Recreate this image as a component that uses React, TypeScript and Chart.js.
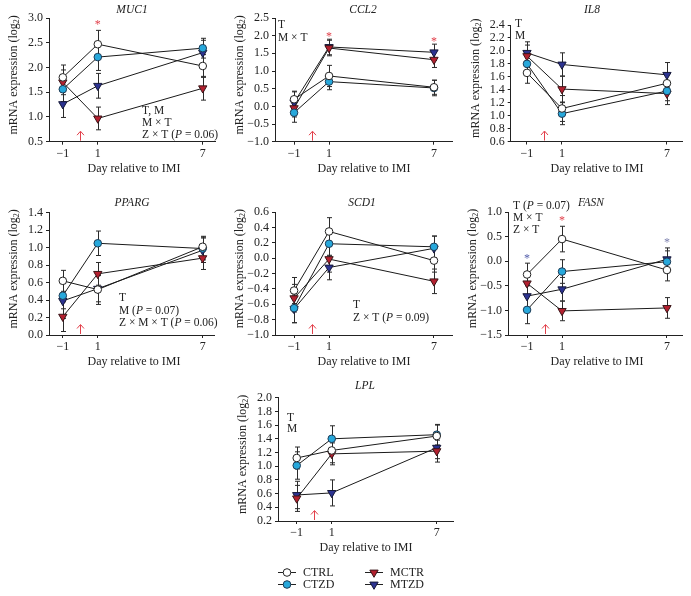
import { useEffect, useRef } from "react";
import { Chart, registerables } from "chart.js";
Chart.register(...registerables);

const FONT = '"Liberation Serif", "Times New Roman", serif';

// ---------- shared categories ----------
const days = [-1, 1, 7];
const xTickLabels = ["\u22121", "1", "7"];
const groupNames = ["CTRL", "CTZD", "MCTR", "MTZD"];
const imiDay = 0;

// ---------- data (rows: CTRL, CTZD, MCTR, MTZD; columns: day -1, 1, 7) ----------
const muc1Means = [[1.80, 2.47, 2.03], [1.56, 2.21, 2.39], [1.70, 0.97, 1.58], [1.26, 1.63, 2.30]];
const muc1Errors = [[0.25, 0.28, 0.23], [0.25, 0.27, 0.20], [0.25, 0.23, 0.24], [0.27, 0.25, 0.25]];
const muc1YTicks = [0.5, 1.0, 1.5, 2.0, 2.5, 3.0];
const muc1Stars = [[1, 2.92]];

const ccl2Means = [[0.20, 0.86, 0.54], [-0.18, 0.70, 0.52], [-0.05, 1.65, 1.32], [0.11, 1.68, 1.53]];
const ccl2Errors = [[0.23, 0.30, 0.20], [0.27, 0.23, 0.22], [0.25, 0.22, 0.22], [0.30, 0.22, 0.23]];
const ccl2YTicks = [-1.0, -0.5, 0.0, 0.5, 1.0, 1.5, 2.0, 2.5];
const ccl2Stars = [[1, 2.05], [7, 1.91]];

const il8Means = [[1.66, 1.11, 1.50], [1.80, 1.03, 1.38], [1.92, 1.41, 1.34], [1.97, 1.79, 1.63]];
const il8Errors = [[0.16, 0.20, 0.15], [0.15, 0.17, 0.15], [0.17, 0.20, 0.17], [0.17, 0.18, 0.19]];
const il8YTicks = [0.6, 0.8, 1.0, 1.2, 1.4, 1.6, 1.8, 2.0, 2.2, 2.4];

const ppargMeans = [[0.62, 0.52, 1.01], [0.45, 1.05, 0.99], [0.21, 0.70, 0.88], [0.39, 0.53, 0.97]];
const ppargErrors = [[0.12, 0.17, 0.12], [0.15, 0.14, 0.13], [0.17, 0.13, 0.13], [0.20, 0.15, 0.14]];
const ppargYTicks = [0.0, 0.2, 0.4, 0.6, 0.8, 1.0, 1.2, 1.4];

const scd1Means = [[-0.42, 0.35, -0.03], [-0.65, 0.19, 0.15], [-0.52, -0.01, -0.30], [-0.66, -0.12, 0.13]];
const scd1Errors = [[0.17, 0.18, 0.15], [0.19, 0.16, 0.14], [0.18, 0.17, 0.16], [0.18, 0.16, 0.16]];
const scd1YTicks = [-1.0, -0.8, -0.6, -0.4, -0.2, 0.0, 0.2, 0.4, 0.6];

const fasnMeans = [[-0.27, 0.45, -0.18], [-0.99, -0.21, -0.01], [-0.45, -1.01, -0.95], [-0.71, -0.57, 0.04]];
const fasnErrors = [[0.23, 0.26, 0.22], [0.28, 0.24, 0.22], [0.24, 0.20, 0.21], [0.25, 0.24, 0.23]];
const fasnYTicks = [-1.5, -1.0, -0.5, 0.0, 0.5, 1.0];
const fasnStars = [[-1, 0.10], [1, 0.88], [7, 0.44]];

const lplMeans = [[1.12, 1.23, 1.44], [1.01, 1.40, 1.46], [0.53, 1.18, 1.22], [0.58, 0.61, 1.27]];
const lplErrors = [[0.16, 0.18, 0.16], [0.20, 0.19, 0.15], [0.19, 0.16, 0.16], [0.20, 0.19, 0.16]];
const lplYTicks = [0.2, 0.4, 0.6, 0.8, 1.0, 1.2, 1.4, 1.6, 1.8, 2.0];

// ---------- styles ----------
const RED = "#E2404B";
const BLUE_STAR = "#5560AC";
const SLATE_STAR = "#7C80AE";
const groupStyles = [
  { shape: "circle", rot: 0, r: 3.8, fill: "#ffffff", border: "#222222" },
  { shape: "circle", rot: 0, r: 3.8, fill: "#27A8DB", border: "#1d3a55" },
  { shape: "triangle", rot: 180, r: 4.8, fill: "#B3202F", border: "#3a1518" },
  { shape: "triangle", rot: 180, r: 4.8, fill: "#2C3391", border: "#151838" },
];

type Note = { x: number; y: number; t: string };
type PanelCfg = {
  title: string;
  means: number[][];
  errs: number[][];
  yTicks: number[];
  stars: number[][];
  starColors: string[];
  xMin: number;
  xMax: number;
  canvas: number[];
  area: number[];
  titlePos: number[];
  xTitlePos: number[];
  notes: Note[];
  legend?: boolean;
};

const panels: PanelCfg[] = [
  {
    title: "MUC1", means: muc1Means, errs: muc1Errors, yTicks: muc1YTicks, stars: muc1Stars, starColors: [RED],
    xMin: -1.79, xMax: 7.7, canvas: [0, 0, 226, 180], area: [49, 18, 215, 141.7],
    titlePos: [132, 10], xTitlePos: [134, 169],
    notes: [{ x: 142, y: 111, t: "T, M" }, { x: 142, y: 123, t: "M \u00d7 T" }, { x: 142, y: 135, t: "Z \u00d7 T (_P_ = 0.06)" }],
  },
  {
    title: "CCL2", means: ccl2Means, errs: ccl2Errors, yTicks: ccl2YTicks, stars: ccl2Stars, starColors: [RED, RED],
    xMin: -2.09, xMax: 8.03, canvas: [226, 0, 234, 180], area: [275, 18, 452, 141.7],
    titlePos: [363, 10], xTitlePos: [364, 169],
    notes: [{ x: 278, y: 25, t: "T" }, { x: 278, y: 38, t: "M \u00d7 T" }],
  },
  {
    title: "IL8", means: il8Means, errs: il8Errors, yTicks: il8YTicks, stars: [], starColors: [],
    xMin: -1.93, xMax: 7.86, canvas: [460, 0, 231, 180], area: [510.7, 25, 682, 141.5],
    titlePos: [592, 10], xTitlePos: [597, 169],
    notes: [{ x: 515, y: 24, t: "T" }, { x: 515, y: 36, t: "M" }],
  },
  {
    title: "PPARG", means: ppargMeans, errs: ppargErrors, yTicks: ppargYTicks, stars: [], starColors: [],
    xMin: -1.79, xMax: 7.65, canvas: [0, 180, 226, 190], area: [49, 212.7, 214, 335],
    titlePos: [132, 203], xTitlePos: [134, 362],
    notes: [{ x: 119, y: 298, t: "T" }, { x: 119, y: 311, t: "M (_P_ = 0.07)" }, { x: 119, y: 323, t: "Z \u00d7 M \u00d7 T (_P_ = 0.06)" }],
  },
  {
    title: "SCD1", means: scd1Means, errs: scd1Errors, yTicks: scd1YTicks, stars: [], starColors: [],
    xMin: -2.09, xMax: 8.03, canvas: [226, 180, 234, 190], area: [275, 212.3, 452, 335],
    titlePos: [362, 203], xTitlePos: [364, 362],
    notes: [{ x: 353, y: 305, t: "T" }, { x: 353, y: 318, t: "Z \u00d7 T (_P_ = 0.09)" }],
  },
  {
    title: "FASN", means: fasnMeans, errs: fasnErrors, yTicks: fasnYTicks, stars: fasnStars, starColors: [BLUE_STAR, RED, SLATE_STAR],
    xMin: -2.09, xMax: 7.86, canvas: [460, 180, 231, 190], area: [508, 212, 682, 335],
    titlePos: [591, 203], xTitlePos: [597, 362],
    notes: [{ x: 513, y: 206, t: "T (_P_ = 0.07)" }, { x: 513, y: 218, t: "M \u00d7 T" }, { x: 513, y: 230, t: "Z \u00d7 T" }],
  },
  {
    title: "LPL", means: lplMeans, errs: lplErrors, yTicks: lplYTicks, stars: [], starColors: [],
    xMin: -2.07, xMax: 7.93, canvas: [220, 370, 240, 226], area: [278, 397.7, 453, 521],
    titlePos: [365, 386], xTitlePos: [366, 548],
    notes: [{ x: 287, y: 418, t: "T" }, { x: 287, y: 429, t: "M" }],
    legend: true,
  },
];

const fmtY = (v: number) => (Math.abs(v) < 1e-9 ? "0.0" : v.toFixed(1).replace("-", "\u2212"));

function drawRich(ctx: CanvasRenderingContext2D, text: string, x: number, y: number, size: number) {
  const parts = text.split("_");
  let cx = x;
  ctx.textAlign = "left";
  ctx.textBaseline = "middle";
  parts.forEach((p, i) => {
    ctx.font = `${i % 2 === 1 ? "italic " : ""}${size}px ${FONT}`;
    ctx.fillText(p, cx, y);
    cx += ctx.measureText(p).width;
  });
}

function drawMarker(ctx: CanvasRenderingContext2D, idx: number, x: number, y: number) {
  const s = groupStyles[idx];
  ctx.save();
  ctx.fillStyle = s.fill;
  ctx.strokeStyle = s.border;
  ctx.lineWidth = 1;
  ctx.beginPath();
  if (s.shape === "circle") {
    ctx.arc(x, y, s.r, 0, Math.PI * 2);
  } else {
    const r = s.r;
    ctx.moveTo(x, y + r);
    ctx.lineTo(x - r * Math.sin(Math.PI / 3), y - r / 2);
    ctx.lineTo(x + r * Math.sin(Math.PI / 3), y - r / 2);
    ctx.closePath();
  }
  ctx.fill();
  ctx.stroke();
  ctx.restore();
}

function Panel({ cfg }: { cfg: PanelCfg }) {
  const ref = useRef<HTMLCanvasElement | null>(null);
  useEffect(() => {
    const [cl, ct, cw, ch] = cfg.canvas;
    const [L, T, R, B] = cfg.area;
    const YW = 30;
    const XH = 22;
    const datasets = groupNames.map((g, i) => ({
      label: g,
      data: days.map((d, j) => ({ x: d, y: cfg.means[i][j] })),
      showLine: true,
      borderColor: "#1a1a1a",
      borderWidth: 1,
      tension: 0,
      fill: false,
      pointStyle: groupStyles[i].shape,
      pointRotation: groupStyles[i].rot,
      pointRadius: groupStyles[i].r,
      pointBackgroundColor: groupStyles[i].fill,
      pointBorderColor: groupStyles[i].border,
      pointBorderWidth: 1,
    }));

    const deco = {
      id: "deco",
      beforeDatasetsDraw(chart: any) {
        const ctx = chart.ctx;
        const xs = chart.scales.x;
        const ys = chart.scales.y;
        ctx.save();
        ctx.strokeStyle = "#2a2a2a";
        ctx.lineWidth = 1;
        cfg.means.forEach((row, i) =>
          row.forEach((m, j) => {
            const e = cfg.errs[i][j];
            const x = Math.round(xs.getPixelForValue(days[j])) + 0.5;
            const y1 = ys.getPixelForValue(m + e);
            const y2 = ys.getPixelForValue(m - e);
            ctx.beginPath();
            ctx.moveTo(x, y1);
            ctx.lineTo(x, y2);
            ctx.moveTo(x - 2.5, y1);
            ctx.lineTo(x + 2.5, y1);
            ctx.moveTo(x - 2.5, y2);
            ctx.lineTo(x + 2.5, y2);
            ctx.stroke();
          })
        );
        ctx.restore();
      },
      afterDraw(chart: any) {
        const ctx: CanvasRenderingContext2D = chart.ctx;
        const xs = chart.scales.x;
        const ys = chart.scales.y;
        const area = chart.chartArea;
        ctx.save();
        ctx.fillStyle = "#222";
        // title
        ctx.font = `italic 11.5px ${FONT}`;
        ctx.textAlign = "center";
        ctx.textBaseline = "middle";
        ctx.fillText(cfg.title, cfg.titlePos[0] - cl, cfg.titlePos[1] - ct);
        // x title
        ctx.font = `12px ${FONT}`;
        ctx.fillText("Day relative to IMI", cfg.xTitlePos[0] - cl, cfg.xTitlePos[1] - ct);
        // y title with subscript
        ctx.save();
        ctx.translate(area.left - 35, (area.top + area.bottom) / 2 - 5);
        ctx.rotate(-Math.PI / 2);
        const segs: [string, number, number][] = [["mRNA expression (log", 12, 0], ["2", 8, 3], [")", 12, 0]];
        let total = 0;
        segs.forEach(([s, sz]) => {
          ctx.font = `${sz}px ${FONT}`;
          total += ctx.measureText(s).width;
        });
        let cx = -total / 2;
        ctx.textAlign = "left";
        segs.forEach(([s, sz, dy]) => {
          ctx.font = `${sz}px ${FONT}`;
          ctx.fillText(s, cx, dy);
          cx += ctx.measureText(s).width;
        });
        ctx.restore();
        // notes
        cfg.notes.forEach((n) => drawRich(ctx, n.t, n.x - cl, n.y - ct, 11.5));
        // stars
        ctx.font = `12px ${FONT}`;
        ctx.textAlign = "center";
        ctx.textBaseline = "alphabetic";
        cfg.stars.forEach(([sx, sy], k) => {
          ctx.fillStyle = cfg.starColors[k];
          ctx.fillText("*", xs.getPixelForValue(sx), ys.getPixelForValue(sy) + 6);
        });
        // IMI arrow
        const ax = Math.round(xs.getPixelForValue(imiDay)) + 0.5;
        const by = area.bottom - 1;
        ctx.strokeStyle = RED;
        ctx.lineWidth = 1;
        ctx.beginPath();
        ctx.moveTo(ax, by);
        ctx.lineTo(ax, by - 9);
        ctx.moveTo(ax - 3.5, by - 5.5);
        ctx.lineTo(ax, by - 9.5);
        ctx.lineTo(ax + 3.5, by - 5.5);
        ctx.stroke();
        // legend
        if (cfg.legend) {
          const items = [
            { i: 0, x: 287, y: 572 },
            { i: 1, x: 287, y: 584 },
            { i: 2, x: 374, y: 572 },
            { i: 3, x: 374, y: 584 },
          ];
          items.forEach((it) => {
            const lx = it.x - cl;
            const ly = it.y - ct;
            ctx.strokeStyle = "#222";
            ctx.lineWidth = 1;
            ctx.beginPath();
            ctx.moveTo(lx - 9, ly + 0.5);
            ctx.lineTo(lx + 9, ly + 0.5);
            ctx.stroke();
            drawMarker(ctx, it.i, lx, ly + 0.5);
            ctx.fillStyle = "#222";
            ctx.font = `12px ${FONT}`;
            ctx.textAlign = "left";
            ctx.textBaseline = "middle";
            ctx.fillText(groupNames[it.i], lx + 16, ly + 1);
          });
        }
        ctx.restore();
      },
    };

    const axisCommon = {
      grid: { display: true, drawOnChartArea: false, drawTicks: true, tickLength: 3, color: "#222" },
      border: { display: true, color: "#222", width: 1 },
    };

    const chart = new Chart(ref.current as HTMLCanvasElement, {
      type: "scatter",
      data: { datasets: datasets as any },
      options: {
        animation: false,
        responsive: false,
        devicePixelRatio: 1,
        events: [],
        layout: { padding: { left: L - cl - YW, top: T - ct, right: cl + cw - R, bottom: ct + ch - B - XH } },
        plugins: { legend: { display: false }, tooltip: { enabled: false }, title: { display: false } },
        scales: {
          x: {
            type: "linear",
            min: cfg.xMin,
            max: cfg.xMax,
            ...axisCommon,
            afterBuildTicks: (s: any) => {
              s.ticks = days.map((v) => ({ value: v }));
            },
            afterFit: (s: any) => {
              s.height = XH;
            },
            ticks: {
              autoSkip: false,
              maxRotation: 0,
              padding: 2,
              color: "#222",
              font: { family: FONT, size: 12 },
              callback: (v: any) => xTickLabels[days.indexOf(Number(v))] ?? "",
            },
          },
          y: {
            type: "linear",
            min: cfg.yTicks[0],
            max: cfg.yTicks[cfg.yTicks.length - 1],
            ...axisCommon,
            afterBuildTicks: (s: any) => {
              s.ticks = cfg.yTicks.map((v) => ({ value: v }));
            },
            afterFit: (s: any) => {
              s.width = YW;
            },
            ticks: {
              autoSkip: false,
              padding: 3,
              color: "#222",
              font: { family: FONT, size: 12 },
              callback: (v: any) => fmtY(Number(v)),
            },
          },
        },
      } as any,
      plugins: [deco],
    });
    return () => chart.destroy();
  }, [cfg]);

  const [cl, ct, cw, ch] = cfg.canvas;
  return (
    <canvas
      ref={ref}
      width={cw}
      height={ch}
      style={{ position: "absolute", left: cl, top: ct, width: cw, height: ch }}
    />
  );
}

export default function App() {
  return (
    <div style={{ position: "absolute", left: 0, top: 0, width: 691, height: 596, background: "#fff", overflow: "hidden" }}>
      {panels.map((p) => (
        <Panel key={p.title} cfg={p} />
      ))}
    </div>
  );
}
